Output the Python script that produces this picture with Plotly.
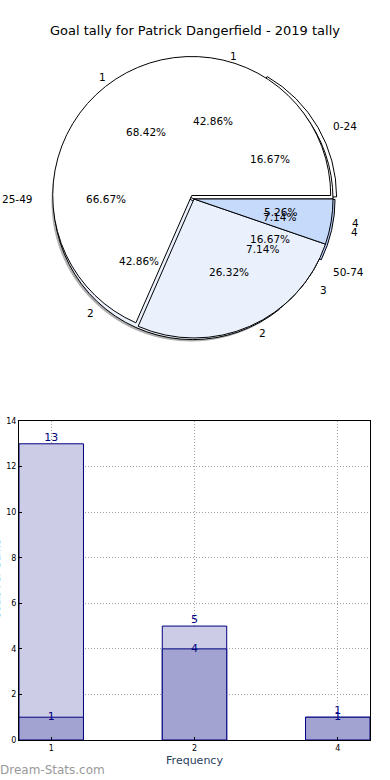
import math
import plotly.graph_objects as go

# ---------------- data ----------------
title_text = "Goal tally for Patrick Dangerfield - 2019 tally"

# pie A: games by goal tally (1, 2, 4 goals)
tally_labels = ["1", "2", "4"]
tally_counts = [13, 5, 1]

# pie B: second breakdown
game_labels = ["1", "2", "3", "4"]
game_counts = [6, 6, 1, 1]

# pie C: minute ranges
range_labels = ["0-24", "25-49", "50-74"]
range_counts = [1, 4, 1]

# bar chart
freq_labels = ["1", "2", "4"]
freq_all = [13, 5, 1]
freq_sub = [1, 4, 1]

# ---------------- styling ----------------
W, H = 390, 780
FONT = "DejaVu Sans"
PIE_FS = 10.5
pie_colors = ["#FFFFFF", "#EAF1FD", "#C6DAFC", "#B3CDFA"]
CX, CY = 194, 199          # pie centre, px
R = 139                    # drawn pie radius, px
EA, EB = 146, 133          # text-placement ellipse semi-axes, px

fig = go.Figure()


def pie_domain(cx, cy, r, pull):
    h = r * (1 + max(pull))
    return dict(x=[(cx - h) / W, (cx + h) / W], y=[1 - (cy + h) / H, 1 - (cy - h) / H])


def add_pie(labels, values, pull, colors, cx=CX, cy=CY, opacity=1.0, line="#000000"):
    # matplotlib style: first wedge starts at 3 o'clock and runs counter-clockwise
    first_deg = 360.0 * values[0] / sum(values)
    fig.add_trace(go.Pie(
        labels=labels, values=values, sort=False, direction="counterclockwise",
        rotation=90 - first_deg, pull=pull, textinfo="none", hoverinfo="label+percent",
        marker=dict(colors=colors, line=dict(color=line, width=1)),
        domain=pie_domain(cx, cy, R, pull), showlegend=False, opacity=opacity,
    ))


# shadow
add_pie(range_labels, range_counts, [0.03, 0.0, 0.0], ["#7a7a7a"] * 3,
        cx=CX - 3, cy=CY + 3, opacity=0.6, line="#7a7a7a")
# stacked pies (bottom to top)
add_pie(range_labels, range_counts, [0.03, 0.0, 0.0], pie_colors[:3])
add_pie(game_labels, game_counts, [0.0, 0.015, 0.0, 0.015], pie_colors[:4])
add_pie(tally_labels, tally_counts, [0.03, 0.0, 0.0], pie_colors[:3])

annotations = []


def pie_texts(labels, values):
    total = sum(values)
    start = 0.0
    for lab, v in zip(labels, values):
        span = 360.0 * v / total
        mid = math.radians(start + span / 2)
        start += span
        c, s = math.cos(mid), math.sin(mid)
        # percentage at 0.6 radius
        annotations.append(dict(
            x=(CX + 0.6 * EA * c) / W, y=1 - (CY - 0.6 * EB * s) / H,
            xref="paper", yref="paper", text=f"{100 * v / total:.2f}%",
            showarrow=False, xanchor="center", yanchor="middle",
            borderpad=0, borderwidth=0,
            font=dict(family=FONT, size=PIE_FS, color="#000000")))
        # label at 1.1 radius
        annotations.append(dict(
            x=(CX + 1.1 * EA * c) / W, y=1 - (CY - 1.1 * EB * s) / H,
            xref="paper", yref="paper", text=lab, showarrow=False,
            xanchor="left" if c > 0 else "right", yanchor="middle",
            borderpad=0, borderwidth=0,
            font=dict(family=FONT, size=PIE_FS, color="#000000")))


pie_texts(range_labels, range_counts)
pie_texts(game_labels, game_counts)
pie_texts(tally_labels, tally_counts)

# ---------------- bar chart ----------------
fig.add_trace(go.Bar(
    x=freq_labels, y=freq_all, width=0.45, showlegend=False,
    marker=dict(color="#CCCCE6", line=dict(color="#000080", width=1)),
    xaxis="x", yaxis="y"))
fig.add_trace(go.Bar(
    x=freq_labels, y=freq_sub, width=0.45, showlegend=False,
    marker=dict(color="#A3A3D1", line=dict(color="#000080", width=1)),
    xaxis="x", yaxis="y"))
fig.add_trace(go.Scatter(
    x=freq_labels, y=freq_all, mode="text", text=[str(v) for v in freq_all],
    textposition="top center", showlegend=False, hoverinfo="skip",
    textfont=dict(family=FONT, size=11, color="#000080")))
fig.add_trace(go.Scatter(
    x=freq_labels, y=freq_sub, mode="text", text=[str(v) for v in freq_sub],
    textposition="middle center", showlegend=False, hoverinfo="skip",
    textfont=dict(family=FONT, size=11, color="#000080")))

ax_common = dict(
    showgrid=True, gridcolor="#a0a0a0", griddash="1px,2px", gridwidth=1,
    showline=True, linecolor="#000000", linewidth=1, mirror=True,
    ticks="inside", ticklen=3, tickcolor="#000000",
    tickfont=dict(family=FONT, size=8, color="#000000"), zeroline=False,
)

annotations.append(dict(
    x=3 / W, y=1 - 580 / H, xref="paper", yref="paper", text="Goals Per Game",
    textangle=-90, showarrow=False, xanchor="right", yanchor="middle",
    font=dict(family=FONT, size=10, color="#000000")))
annotations.append(dict(
    x=-2 / W, y=1 - 770 / H, xref="paper", yref="paper", text="Dream-Stats.com",
    showarrow=False, xanchor="left", yanchor="middle",
    font=dict(family=FONT, size=12, color="#999999")))

fig.update_layout(
    width=W, height=H, margin=dict(l=0, r=0, t=0, b=0, autoexpand=False),
    paper_bgcolor="#FFFFFF", plot_bgcolor="#FFFFFF", barmode="overlay",
    title=dict(text=title_text, x=0.5, xanchor="center", y=1 - 30 / H,
               yanchor="middle", font=dict(family=FONT, size=13, color="#000000")),
    xaxis=dict(domain=[19 / W, 370 / W], type="category", range=[-0.225, 2.225],
               title=dict(text="Frequency", font=dict(family=FONT, size=11), standoff=4),
               anchor="y", **ax_common),
    yaxis=dict(domain=[1 - 740 / H, 1 - 421 / H], range=[0, 14], dtick=2,
               anchor="x", **ax_common),
    annotations=annotations,
)

fig.write_html("out.html", config={"displayModeBar": False},
               post_script="document.body.style.margin='0';document.body.style.overflow='hidden';")
